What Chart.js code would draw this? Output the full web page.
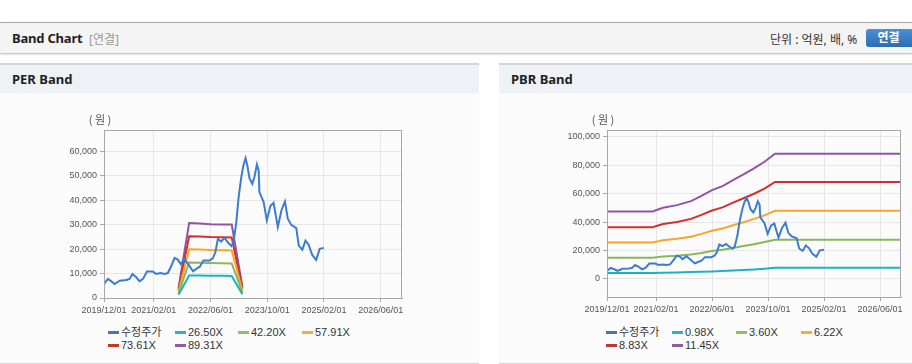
<!DOCTYPE html>
<html lang="ko">
<head>
<meta charset="utf-8">
<title>Band Chart</title>
<script src="https://cdn.jsdelivr.net/npm/chart.js@4.4.1/dist/chart.umd.min.js"></script>
<style>
  body { margin: 0; width: 912px; height: 364px; overflow: hidden; background: #fff; position: relative;
         font-family: "Noto Sans", "Noto Sans CJK KR", sans-serif; color: #222; }
  .bar { position: absolute; left: 0; top: 22px; width: 912px; height: 30px; background: #f4f4f4;
         border-top: 1px solid #aaa; box-shadow: 0 1px 2px rgba(0,0,0,.3); }
  .bar .title { position: absolute; left: 12px; top: 6px; font-size: 13px; font-weight: bold; letter-spacing: -0.2px; }
  .bar .sub { position: absolute; left: 89px; top: 7px; font-size: 12px; color: #999; }
  .bar .unit { position: absolute; left: 770px; top: 7px; font-size: 12px; color: #333; }
  .bar .btn { position: absolute; left: 866px; top: 6px; width: 50px; height: 18px; border-radius: 3px;
              background: linear-gradient(#4d8fd4, #2b6cb3); color: #fff; font-size: 12px; font-weight: bold;
              text-align: center; line-height: 18px; text-indent: -5px; }
  .panel { position: absolute; top: 63px; height: 298px; background: #fbfbfc;
           border-top: 2px solid #d4d4d4; border-bottom: 1px solid #d8d8d8; }
  .panel .head { height: 28px; background: #eef2f7; font-size: 13px; font-weight: bold;
                 line-height: 28px; padding-left: 12px; }
  .panel canvas { position: absolute; left: 0; top: 30px; }
  .legend { position: absolute; top: 261px; display: grid; font-size: 11px; color: #333;
            font-family: "Liberation Sans", "Noto Sans CJK KR", sans-serif; }
  .legend div { height: 13px; line-height: 13px; white-space: nowrap; }
  .legend i { display: inline-block; width: 11px; height: 3px; margin-right: 2px; vertical-align: middle;
              position: relative; top: -1px; }
</style>
</head>
<body>
<div class="bar">
  <span class="title">Band Chart</span><span class="sub">[연결]</span>
  <span class="unit">단위 : 억원, 배, %</span><span class="btn">연결</span>
</div>
<div class="panel" style="left:0;width:479px">
  <div class="head">PER Band</div>
  <canvas id="per" width="479" height="230"></canvas>
  <div class="legend" id="perLegend"></div>
</div>
<div class="panel" style="left:499px;width:413px">
  <div class="head">PBR Band</div>
  <canvas id="pbr" width="413" height="230"></canvas>
  <div class="legend" id="pbrLegend"></div>
</div>
<script>
// 수정주가 (원)
const priceDates = ['2019/12/01', '2020/01/04', '2020/02/04', '2020/03/01', '2020/04/13', '2020/06/10',
  '2020/07/07', '2020/08/01', '2020/09/04', '2020/10/01', '2020/11/01', '2020/12/04', '2021/01/25',
  '2021/02/22', '2021/03/28', '2021/05/04', '2021/06/01', '2021/07/01', '2021/07/28', '2021/08/25',
  '2021/09/19', '2021/10/22', '2021/11/28', '2022/01/04', '2022/02/01', '2022/03/01', '2022/04/01',
  '2022/05/25', '2022/06/22', '2022/07/13', '2022/08/04', '2022/09/01', '2022/10/01', '2022/10/28',
  '2022/11/28', '2022/12/16', '2023/01/10', '2023/01/28', '2023/02/22', '2023/03/10', '2023/03/28',
  '2023/04/13', '2023/05/01', '2023/05/25', '2023/06/13', '2023/07/04', '2023/07/19', '2023/07/25',
  '2023/09/01', '2023/09/28', '2023/10/28', '2023/11/25', '2024/01/01', '2024/02/01', '2024/03/01',
  '2024/03/25', '2024/04/25', '2024/06/07', '2024/06/28', '2024/07/28', '2024/08/25', '2024/09/22',
  '2024/10/22', '2024/11/25', '2024/12/25', '2025/02/01']
const price = [5700, 7800, 6800, 5700, 7100, 7400,
  7800, 9800, 8500, 6800, 7800, 10800, 10800,
  9800, 10200, 9800, 10200, 13200, 16400, 15700,
  13900, 16000, 13500, 10900, 11900, 12800, 15300,
  15300, 16300, 18700, 24200, 23100, 24600, 22800,
  21200, 22800, 31000, 40600, 49500, 54200, 57200,
  54200, 49000, 46700, 49500, 54600, 52200, 43300,
  39200, 31700, 37600, 38900, 29000, 35800, 39500,
  32400, 29900, 28600, 21400, 19700, 23500, 21700,
  17600, 15600, 20100, 20500]

// PER 밴드
const perDates = ['2021/09/01', '2021/12/01', '2022/03/01', '2022/06/01', '2022/09/01', '2022/12/01', '2023/03/01']
const perLabels = ['26.50X', '42.20X', '57.91X', '73.61X', '89.31X']
const per1 = [1300, 9200, 9200, 9100, 9100, 9000, 1500]
const per2 = [2000, 14500, 14400, 14300, 14200, 14100, 2300]
const per3 = [2700, 19900, 19800, 19600, 19500, 19400, 3100]
const per4 = [3300, 25200, 25100, 24900, 24800, 24700, 3900]
const per5 = [4000, 30700, 30500, 30200, 30100, 30100, 4700]

// PBR 밴드
const pbrDates = ['2019/12/01', '2021/01/01', '2021/04/01', '2021/08/01', '2021/12/01', '2022/03/01', '2022/06/01',
  '2022/09/01', '2022/12/01', '2023/03/01', '2023/06/01', '2023/09/01', '2023/12/01', '2026/12/01']
const pbrLabels = ['0.98X', '3.60X', '6.22X', '8.83X', '11.45X']
const pbr1 = [4200, 4200, 4300, 4500, 4800, 5000, 5300, 5600, 5900, 6300, 6700, 7200, 7800, 7800]
const pbr2 = [14900, 14900, 15700, 16300, 17200, 18300, 19600, 20500, 21800, 23100, 24400, 25900, 27600, 27600]
const pbr3 = [25700, 25700, 27200, 28200, 29700, 31700, 33900, 35400, 37700, 39900, 42200, 44700, 47900, 47900]
const pbr4 = [36300, 36300, 38600, 40000, 42200, 45000, 48100, 50300, 53600, 56700, 59900, 63500, 68200, 68200]
const pbr5 = [47400, 47400, 50000, 51900, 54700, 58400, 62400, 65200, 69500, 73500, 77700, 82400, 88000, 88000]

// x 축 눈금 (2019/12 부터 개월 수)
const xTickMonths = [0, 14, 30, 46, 62, 78]

const lineColors = ['#3c7cd0', '#1cb2c6', '#8cb65a', '#f7a52c', '#d2302a', '#9154a4']
const legendColors = ['#4f74a8', '#3aaec0', '#98b86a', '#eeb048', '#c0392b', '#8d5b9d']

/**
 * 날짜 문자열 -> 2019/12 기준 개월 수
 */
function toMonth(s) {
  const [y, m, d] = s.split('/').map(Number)
  return (y - 2019) * 12 + (m - 12) + (d - 1) / 30
}

function monthLabel(k) {
  const y = 2019 + Math.floor((11 + k) / 12)
  const m = (11 + k) % 12 + 1
  return y + '/' + String(m).padStart(2, '0') + '/01'
}

function points(dates, values) {
  return dates.map((d, i) => ({ x: toMonth(d), y: values[i] }))
}

function lineSet(label, data, idx) {
  return {
    label, data,
    borderColor: lineColors[idx],
    legendColor: legendColors[idx],
    borderWidth: 2, pointRadius: 0, tension: 0, fill: false
  }
}

// 테두리 + (원)
const framePlugin = {
  id: 'frame',
  afterDraw(chart) {
    const { ctx, chartArea: a } = chart
    ctx.save()
    ctx.strokeStyle = '#a8a8a8'
    ctx.lineWidth = 1
    ctx.strokeRect(Math.round(a.left) + 0.5, Math.round(a.top) + 0.5,
      Math.round(a.right - a.left) - 1, Math.round(a.bottom - a.top))
    ctx.fillStyle = '#555'
    ctx.font = '11px "Noto Sans CJK KR"'
    ctx.textAlign = 'center'
    ctx.fillText('( 원 )', a.left - 4, a.top - 6)
    ctx.restore()
  }
}

function bandChart(id, datasets, o) {
  const tickFont = { family: '"Liberation Sans", sans-serif', size: 9 }
  return new Chart(document.getElementById(id), {
    type: 'line',
    data: { datasets },
    plugins: [framePlugin],
    options: {
      responsive: false,
      animation: false,
      layout: { padding: { left: 0, right: o.padRight, top: 35, bottom: 0 } },
      plugins: { legend: { display: false }, tooltip: { enabled: false } },
      scales: {
        x: {
          type: 'linear', min: 0, max: 84,
          afterBuildTicks: s => { s.ticks = xTickMonths.map(v => ({ value: v })) },
          afterFit: s => { s.height = o.xHeight },
          grid: { color: '#e6e6e6', tickColor: '#aaa', tickLength: 4 },
          border: { color: '#a8a8a8' },
          ticks: { autoSkip: false, maxRotation: 0, padding: 3, color: '#555', font: tickFont,
                   callback: v => monthLabel(v) }
        },
        y: {
          min: o.yMin, max: o.yMax,
          afterBuildTicks: s => { s.ticks = o.yTicks.map(v => ({ value: v })) },
          afterFit: s => { s.width = o.yWidth },
          grid: { color: '#e6e6e6', tickColor: '#aaa', tickLength: 4 },
          border: { color: '#a8a8a8' },
          ticks: { padding: 3, color: '#555', font: tickFont,
                   callback: v => v.toLocaleString('en-US') }
        }
      }
    }
  })
}

function buildLegend(id, chart, left, cols) {
  const el = document.getElementById(id)
  el.style.left = left + 'px'
  el.style.gridTemplateColumns = cols.map(c => c + 'px').join(' ')
  chart.data.datasets.forEach(ds => {
    const item = document.createElement('div')
    item.innerHTML = '<i style="background:' + ds.legendColor + '"></i>' + ds.label
    el.appendChild(item)
  })
}

const perSeries = [per1, per2, per3, per4, per5]
const perChart = bandChart('per', [lineSet('수정주가', points(priceDates, price), 0)]
  .concat(perSeries.map((s, i) => lineSet(perLabels[i], points(perDates, s), i + 1))), {
  yMin: 0, yMax: 68700, yTicks: [0, 10000, 20000, 30000, 40000, 50000, 60000],
  yWidth: 104, xHeight: 27, padRight: 77
})

const pbrSeries = [pbr1, pbr2, pbr3, pbr4, pbr5]
const pbrChart = bandChart('pbr', [lineSet('수정주가', points(priceDates, price), 0)]
  .concat(pbrSeries.map((s, i) => lineSet(pbrLabels[i], points(pbrDates, s), i + 1))), {
  yMin: -12700, yMax: 104700, yTicks: [0, 20000, 40000, 60000, 80000, 100000],
  yWidth: 108, xHeight: 28, padRight: 11
})

buildLegend('perLegend', perChart, 108, [67, 63, 64, 64])
buildLegend('pbrLegend', pbrChart, 107, [66, 64, 65, 64])
</script>
</body>
</html>
